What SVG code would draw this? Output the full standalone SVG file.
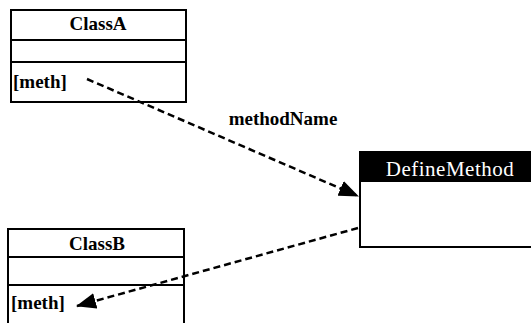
<svg xmlns="http://www.w3.org/2000/svg" width="531" height="323" viewBox="0 0 531 323">
  <style>
    .box { fill: #fff; stroke: #000; stroke-width: 2; }
    .rule { stroke: #000; stroke-width: 2; }
    .head { fill: #000; }
    .t { font-family: "Liberation Serif", "Times New Roman", serif; font-size: 19px; font-weight: bold; fill: #000; }
    .tw { font-family: "Liberation Serif", "Times New Roman", serif; font-size: 21px; fill: #fff; letter-spacing: 0.5px; }
    .dash { fill: none; stroke: #000; stroke-width: 2.5; stroke-dasharray: 7 4; }
  </style>
  <defs>
    <marker id="arrow" viewBox="0 0 20 16" refX="19" refY="8" markerWidth="20" markerHeight="16" markerUnits="userSpaceOnUse" orient="auto">
      <path d="M0,0 L20,8 L0,16 Z" fill="#000"/>
    </marker>
  </defs>
  <rect width="531" height="323" fill="#fff"/>

  <g id="classA">
    <rect class="box" x="11" y="10" width="175" height="92"/>
    <line class="rule" x1="11" y1="40" x2="186" y2="40"/>
    <line class="rule" x1="11" y1="62" x2="186" y2="62"/>
    <text class="t" x="98" y="30" text-anchor="middle">ClassA</text>
    <text class="t" x="13" y="88">[meth]</text>
  </g>

  <g id="classB">
    <rect class="box" x="8" y="229" width="176" height="100"/>
    <line class="rule" x1="8" y1="257" x2="184" y2="257"/>
    <line class="rule" x1="8" y1="285" x2="184" y2="285"/>
    <text class="t" x="97" y="250" text-anchor="middle">ClassB</text>
    <text class="t" x="11" y="309">[meth]</text>
  </g>

  <g id="defineMethod">
    <rect class="box" x="360" y="152" width="180" height="95"/>
    <rect class="head" x="360" y="151" width="180" height="31"/>
    <text class="tw" x="450" y="176" text-anchor="middle">DefineMethod</text>
  </g>

  <g id="connectors">
    <line class="dash" x1="87" y1="79" x2="358" y2="196" marker-end="url(#arrow)"/>
    <text class="t" x="283" y="125" text-anchor="middle">methodName</text>
    <line class="dash" x1="358" y1="228" x2="77" y2="306" marker-end="url(#arrow)"/>
  </g>
</svg>
